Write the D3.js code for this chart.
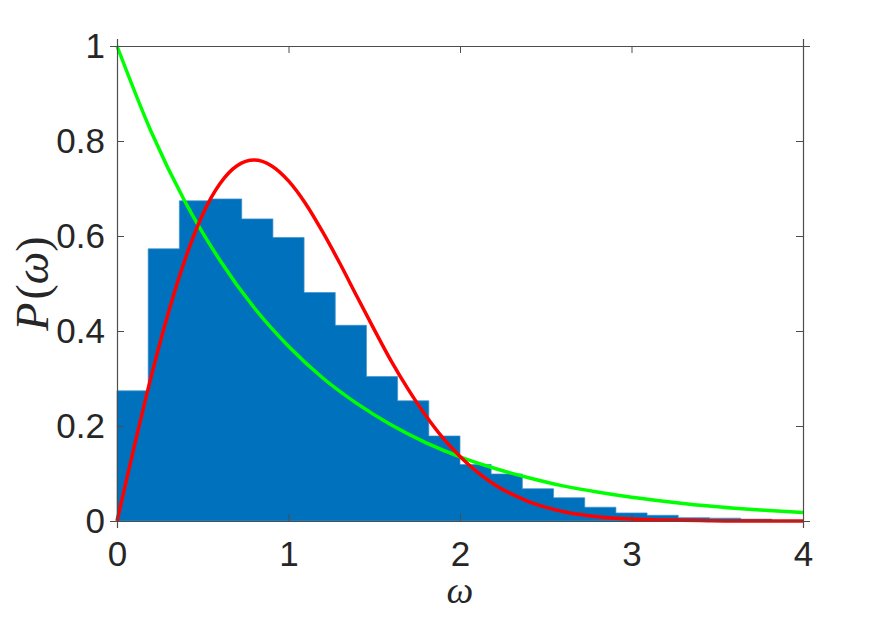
<!DOCTYPE html>
<html>
<head>
<meta charset="utf-8">
<script src="https://cdn.jsdelivr.net/npm/d3@7"></script>
<style>
  html, body { margin: 0; padding: 0; background: #fff; }
  svg { display: block; }
</style>
</head>
<body>
<div id="chart"></div>
<script>
const width = 888;
const height = 627;
const margin = { top: 46, right: 85, bottom: 106, left: 117 };

// histogram: bin width and normalised heights
const binWidth = 2 / 11;
const histValues = [0.274, 0.573, 0.674, 0.678, 0.636, 0.597, 0.481, 0.412, 0.304, 0.253,
  0.179, 0.119, 0.099, 0.068, 0.049, 0.029, 0.017, 0.012, 0.007, 0.006, 0.004, 0.0];

// sampled curves (omega, P)
const greenX = [0, 0.2, 0.4, 0.6, 0.8, 1.0, 1.2, 1.4, 1.6, 1.8, 2.0, 2.2, 2.4, 2.6, 2.8, 3.0, 3.2, 3.4, 3.6, 3.8, 4.0];
const greenY = [1.000, 0.819, 0.670, 0.549, 0.449, 0.368, 0.301, 0.247, 0.202, 0.165, 0.135,
  0.111, 0.091, 0.074, 0.061, 0.050, 0.041, 0.033, 0.027, 0.022, 0.018];

const redX = [0, 0.1, 0.2, 0.3, 0.4, 0.5, 0.6, 0.7, 0.8, 0.9, 1.0, 1.1, 1.2, 1.3, 1.4, 1.5, 1.6, 1.7, 1.8, 1.9,
  2.0, 2.2, 2.4, 2.6, 2.8, 3.0, 3.2, 3.4, 3.6, 3.8, 4.0];
const redY = [0, 0.156, 0.305, 0.439, 0.554, 0.646, 0.710, 0.748, 0.760, 0.748, 0.716, 0.668, 0.608,
  0.542, 0.472, 0.403, 0.336, 0.276, 0.222, 0.175, 0.136, 0.077, 0.041, 0.020, 0.009, 0.004,
  0.002, 0.001, 0.0, 0.0, 0.0];

const xTicks = [0, 1, 2, 3, 4];
const yTicks = [0, 0.2, 0.4, 0.6, 0.8, 1];

const svg = d3.select("#chart").append("svg")
  .attr("width", width)
  .attr("height", height);

const x = d3.scaleLinear().domain([0, 4]).range([margin.left, width - margin.right]);
const y = d3.scaleLinear().domain([0, 1]).range([height - margin.bottom, margin.top]);

// bars drawn as one stepped outline so no seams show between bins
const bins = histValues.map((v, i) => ({ x0: i * binWidth, x1: Math.min((i + 1) * binWidth, 4), v }))
  .filter(d => d.v > 0);

const stepPts = [];
bins.forEach(d => { stepPts.push([d.x0, d.v]); stepPts.push([d.x1, d.v]); });

const histArea = d3.area()
  .x(d => x(d[0]))
  .y0(y(0))
  .y1(d => y(d[1]));

svg.append("path")
  .attr("d", histArea(stepPts))
  .attr("fill", "#0072bd")
  .attr("stroke", "#3f90cd")
  .attr("stroke-width", 0.7);

const line = d3.line()
  .x(d => x(d[0]))
  .y(d => y(d[1]))
  .curve(d3.curveMonotoneX);

svg.append("path")
  .attr("d", line(greenX.map((v, i) => [v, greenY[i]])))
  .attr("fill", "none")
  .attr("stroke", "#00ff00")
  .attr("stroke-width", 3.5);

svg.append("path")
  .attr("d", line(redX.map((v, i) => [v, redY[i]])))
  .attr("fill", "none")
  .attr("stroke", "#ff0000")
  .attr("stroke-width", 3.5);

// axes box with inward ticks on all sides
const axisColor = "#4d4d4d";
const tickLen = 7;

const gx = svg.append("g")
  .attr("transform", `translate(0,${y(0)})`)
  .call(d3.axisBottom(x).tickValues(xTicks).tickSize(tickLen).tickFormat(d3.format("d")));
gx.selectAll(".tick line").attr("y2", -tickLen);
gx.selectAll(".tick text").attr("y", 20);

const gy = svg.append("g")
  .attr("transform", `translate(${x(0)},0)`)
  .call(d3.axisLeft(y).tickValues(yTicks).tickSize(tickLen)
    .tickFormat(d => d === 0 || d === 1 ? d : d3.format(".1f")(d)));
gy.selectAll(".tick line").attr("x2", tickLen);
gy.selectAll(".tick text").attr("x", -12);

const gxTop = svg.append("g")
  .attr("transform", `translate(0,${y(1)})`)
  .call(d3.axisTop(x).tickValues(xTicks).tickSize(tickLen).tickFormat(""));
gxTop.selectAll(".tick line").attr("y2", tickLen);

const gyRight = svg.append("g")
  .attr("transform", `translate(${x(4)},0)`)
  .call(d3.axisRight(y).tickValues(yTicks).tickSize(tickLen).tickFormat(""));
gyRight.selectAll(".tick line").attr("x2", -tickLen);

svg.selectAll(".domain").attr("stroke", axisColor).attr("stroke-width", 1.2);
svg.selectAll(".tick line").attr("stroke", axisColor).attr("stroke-width", 1);
svg.selectAll(".tick text")
  .attr("fill", "#262626")
  .attr("font-family", "'Liberation Sans', Arial, sans-serif")
  .attr("font-size", 35);

// axis labels
svg.append("text")
  .attr("x", x(2))
  .attr("y", 603)
  .attr("text-anchor", "middle")
  .attr("font-family", "'Liberation Serif', 'DejaVu Serif', serif")
  .attr("font-style", "italic")
  .attr("font-size", 38)
  .attr("fill", "#262626")
  .text("ω");

const yl = svg.append("text")
  .attr("transform", `translate(48,${(y(0) + y(1)) / 2}) rotate(-90)`)
  .attr("text-anchor", "middle")
  .attr("font-family", "'Liberation Serif', 'DejaVu Serif', serif")
  .attr("font-size", 46)
  .attr("fill", "#262626");
yl.append("tspan").attr("font-style", "italic").text("P");
yl.append("tspan").attr("dx", 3).text("(");
yl.append("tspan").attr("font-style", "italic").text("ω");
yl.append("tspan").text(")");
</script>
</body>
</html>
